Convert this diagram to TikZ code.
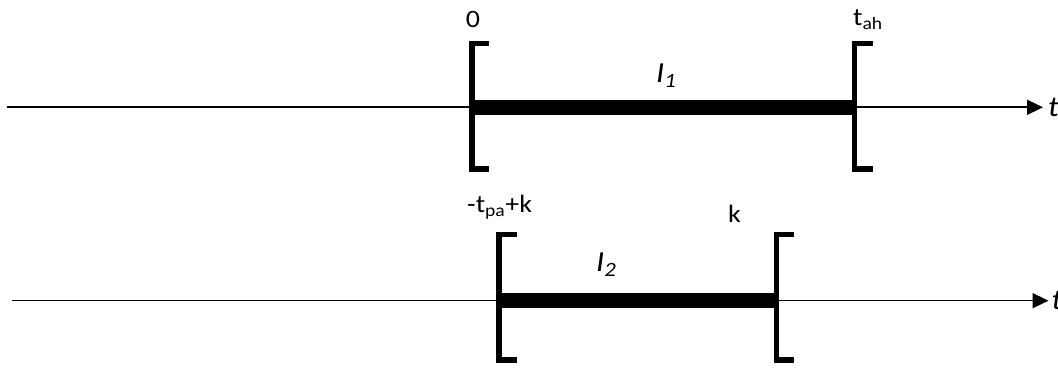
\documentclass[tikz,border=0pt]{standalone}
\usepackage{fontspec}
\setmainfont[FakeStretch=1.12,Numbers=Lining]{Carlito}
\usetikzlibrary{arrows.meta,positioning}

\tikzset{
  axisline/.style={line width=1.6pt, -{Triangle[length=16pt,width=15pt]}},
  barline/.style={line width=15pt},
  bracket/.style={line width=5.6pt, line join=miter},
  lbl/.style={font=\fontsize{25}{29}\selectfont, inner sep=0pt},
  ilbl/.style={font=\fontsize{29}{33}\selectfont\itshape, inner sep=0pt},
}

\begin{document}
\begin{tikzpicture}[x=1pt,y=1pt]
  \useasboundingbox (0,0) rectangle (1058,367);

  % Axis 1 — top
  \coordinate (ax1start) at (7,259.7);
  \coordinate (ax1end)   at (1043,259.7);
  \draw[axisline] (ax1start) -- (ax1end);
  \node[ilbl, anchor=west, right=5pt of ax1end] (ax1t) {t};
  % Interval I1
  \coordinate (i1a) at (472,259.7);
  \coordinate (i1b) at (854.5,259.7);
  \draw[barline] (i1a) -- (i1b);
  \draw[bracket] (i1a) ++(17,63.6) -- ++(-17,0) -- ++(0,-125.2) -- ++(17,0);
  \draw[bracket] (i1b) ++(18.5,63.6) -- ++(-18.5,0) -- ++(0,-125.2) -- ++(18.5,0);
  % Labels
  \node[lbl, anchor=base] (zero) at (473,339) {0};
  \node[lbl, anchor=base west] (tah) at (853,341) {t\textsubscript{ah}};
  \node[ilbl, anchor=base west] (ione) at (656,284) {I\textsubscript{1}};

  % Axis 2 — bottom
  \coordinate (ax2start) at (12,66.3);
  \coordinate (ax2end)   at (1048.5,66.3);
  \draw[axisline] (ax2start) -- (ax2end);
  \node[ilbl, anchor=west, right=3pt of ax2end] (ax2t) {t};
  % Interval I2
  \coordinate (i2a) at (499,66.3);
  \coordinate (i2b) at (776.3,66.3);
  \draw[barline] (i2a) -- (i2b);
  \draw[bracket] (i2a) ++(18,66.2) -- ++(-18,0) -- ++(0,-125.5) -- ++(18,0);
  \draw[bracket] (i2b) ++(17.7,66.2) -- ++(-17.7,0) -- ++(0,-125.5) -- ++(17.7,0);
  % Labels
  \node[lbl, anchor=base west] (lower) at (467,154) {-t\textsubscript{pa}+k};
  \node[lbl, anchor=base west] (kay) at (728,144) {k};
  \node[ilbl, anchor=base west] (itwo) at (596,95) {I\textsubscript{2}};
\end{tikzpicture}
\end{document}
